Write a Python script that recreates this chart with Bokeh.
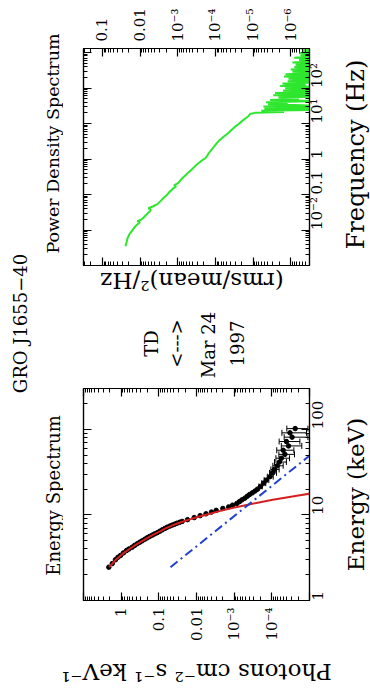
import math

from bokeh.embed import file_html
from bokeh.layouts import column, row
from bokeh.models import (ColumnDataSource, FixedTicker, Label, LogAxis, Range1d,
                          TeeHead, Whisker)
from bokeh.plotting import figure
from bokeh.resources import INLINE

SERIF = "DejaVu Serif"

# ---------------------------------------------------------------- energy spectrum
# photon flux (photons cm^-2 s^-1 keV^-1) against energy (keV)
spec_energy = [2.45, 2.7, 2.99, 3.2, 3.36, 3.6, 3.84, 4.0, 4.2, 4.4, 4.6, 4.8, 4.98,
               5.2, 5.4, 5.6, 5.8, 6.0, 6.2, 6.45, 6.7, 6.95, 7.2, 7.4, 7.6, 7.8,
               8.0, 8.2, 8.4, 8.8, 9.3, 9.8, 10.3, 10.8, 11.3, 11.9, 12.4, 13.0,
               13.6, 14.3, 15.0, 15.7, 16.5, 17.3, 18.1, 19.0, 20.0]
spec_flux = [2.13, 1.72, 1.42, 1.22, 1.04, 0.87, 0.72, 0.62, 0.51, 0.44, 0.375, 0.32, 0.277,
             0.235, 0.204, 0.176, 0.150, 0.130, 0.110, 0.094, 0.081, 0.069, 0.060, 0.051, 0.044, 0.038,
             0.033, 0.028, 0.024, 0.0173, 0.0115, 0.0080, 0.0056, 0.0040, 0.0030, 0.0020, 0.0014, 0.0011,
             0.00085, 0.00072, 0.00062, 0.00052, 0.00045, 0.00039, 0.00033, 0.00028, 0.00024]

# hard X-ray channels with their error bars
hard_energy = [21.5, 23.5, 25.5, 28, 31, 34, 37.5, 41.5, 46, 51, 57, 64, 72, 81, 91, 102]
hard_energy_lo = [20.5, 22.5, 24.5, 26.7, 29.4, 32.5, 35.8, 39.5, 43.7, 48.5, 54, 60.5, 68, 76.5, 86, 96.5]
hard_energy_hi = [22.5, 24.5, 26.7, 29.4, 32.5, 35.8, 39.5, 43.7, 48.5, 54, 60.5, 68, 76.5, 86, 96.5, 108]
hard_flux = [2.0e-4, 1.65e-4, 1.4e-4, 1.12e-4, 9.5e-5, 8.5e-5, 7.2e-5, 6.3e-5,
             5.6e-5, 4.5e-5, 5.0e-5, 3.6e-5, 4.1e-5, 2.9e-5, 3.3e-5, 2.4e-5]
hard_flux_lo = [1.8e-4, 1.45e-4, 1.2e-4, 9.2e-5, 7.5e-5, 6.4e-5, 5.0e-5, 4.1e-5,
                3.4e-5, 2.5e-5, 2.6e-5, 1.6e-5, 1.8e-5, 1.1e-5, 1.2e-5, 1.1e-5]
hard_flux_hi = [2.2e-4, 1.85e-4, 1.6e-4, 1.32e-4, 1.15e-4, 1.06e-4, 9.4e-5, 8.5e-5,
                7.8e-5, 6.5e-5, 7.4e-5, 5.6e-5, 6.4e-5, 4.7e-5, 5.4e-5, 4.0e-5]

# thermal disk component (solid red)
disk_energy = [2.45, 3.0, 3.5, 4.0, 4.5, 5.0, 5.5, 6.0, 6.5, 7.0, 7.5, 8.0, 8.5, 9.0,
               9.5, 10, 11, 12, 13, 14, 15, 16, 17, 18, 19]
disk_flux = [2.08, 1.38, 0.92, 0.60, 0.40, 0.265, 0.184, 0.126, 0.088, 0.064, 0.045, 0.031,
             0.0205, 0.0135, 0.0089, 0.0058, 0.0026, 0.00115, 5.0e-4, 2.2e-4, 9.5e-5,
             4.1e-5, 1.8e-5, 7.8e-6, 3.4e-6]

# power-law component (blue dash-dot)
powerlaw_energy = [2.45, 300.0]
powerlaw_flux = [0.049, 6.0e-8]

# ---------------------------------------------------------------- power density spectrum
pds_freq = [0.0035, 0.0045, 0.0058, 0.0077, 0.0098, 0.0125, 0.0150, 0.0165, 0.0178, 0.0195,
            0.0225, 0.026, 0.030, 0.034, 0.038, 0.041, 0.046, 0.0537, 0.064, 0.0795,
            0.094, 0.110, 0.130, 0.152, 0.168, 0.182, 0.21, 0.25, 0.292, 0.35,
            0.42, 0.50, 0.60, 0.72, 0.87, 1.07, 1.30, 1.60, 2.0, 2.5,
            3.2, 3.9, 4.6, 5.4, 6.5, 7.9, 9.7, 11.5, 13.8, 16.3, 18.5,
            20, 21, 23, 24, 26, 28, 30, 32, 35, 37,
            40, 43, 46, 50, 54, 58, 63, 68, 73, 79,
            85, 92, 99, 107, 115, 124, 134, 145, 156, 168,
            182, 196, 212, 228, 246, 266, 287, 310, 334, 361,
            389, 420, 453, 489, 528, 570, 615, 664, 716, 773,
            834, 900, 971, 1048, 1131, 1220, 1300]
pds_power = [0.0243, 0.0228, 0.0215, 0.0190, 0.0160, 0.0135, 0.0112, 0.0100, 0.0118, 0.0094,
             0.0080, 0.0070, 0.0062, 0.0054, 0.0052, 0.0060, 0.0046, 0.00343, 0.0029, 0.00238,
             0.0020, 0.00175, 0.0015, 0.00129, 0.00110, 0.00125, 0.00098, 0.00085, 0.000745, 0.00062,
             0.00052, 0.00043, 0.00036, 0.00030, 0.00024, 0.000182, 0.000160, 0.000140, 0.000118, 0.000100,
             8.2e-5, 6.6e-5, 5.5e-5, 4.5e-5, 3.8e-5, 3.1e-5, 2.4e-5, 2.0e-5, 1.6e-5, 1.3e-5, 1.2e-5,
             9e-6, 1.5e-6, 6e-6, 3e-7, 5e-6, 1e-7, 5.3e-6, 2e-7, 4e-6, 1.2e-6,
             4.5e-6, 1e-7, 3.5e-6, 6e-7, 2.1e-6, 1e-7, 2.9e-6, 3e-7, 2.6e-6, 1e-7,
             1.6e-6, 2e-7, 1.4e-6, 1e-7, 1.9e-6, 4e-7, 1.65e-6, 1e-7, 1.2e-6, 2e-7,
             1.14e-6, 1e-7, 1.5e-6, 3e-7, 1.37e-6, 1e-7, 9e-7, 2e-7, 1.0e-6, 1e-7,
             8e-7, 3e-7, 7.4e-7, 1e-7, 9e-7, 2e-7, 6e-7, 1e-7, 8e-7, 3e-7,
             5.5e-7, 1e-7, 6e-7, 2e-7, 5e-7, 1e-7, 5.5e-7]

# ---------------------------------------------------------------- tick values and labels
flux_ticks = [10.0, 1.0, 0.1, 0.01, 0.001, 1e-4, 1e-5]
flux_tick_labels = ["", "1", "0.1", "0.01", "10⁻³", "10⁻⁴", ""]
energy_ticks = [1.0, 10.0, 100.0]
energy_tick_labels = ["1", "10", "100"]
power_ticks = [0.1, 0.01, 0.001, 1e-4, 1e-5, 1e-6]
power_tick_labels = ["0.1", "0.01", "10⁻³", "10⁻⁴", "10⁻⁵", "10⁻⁶"]
freq_ticks = [0.001, 0.01, 0.1, 1.0, 10.0, 100.0, 1000.0]
freq_tick_labels = ["", "10⁻²", "0.1", "1", "10¹", "10²", ""]


def minor_log(lo_exp, hi_exp):
    return [m * 10.0 ** e for e in range(lo_exp, hi_exp) for m in range(2, 10)]


def dress_axis(ax, ticks, labels, minor, standoff=7):
    ax.ticker = FixedTicker(ticks=ticks, minor_ticks=minor)
    ax.major_tick_in = 8
    ax.major_tick_out = 0
    ax.minor_tick_in = 4
    ax.minor_tick_out = 0
    ax.axis_line_color = "black"
    ax.axis_line_width = 1.2
    ax.major_tick_line_color = "black"
    ax.major_tick_line_width = 1.2
    ax.minor_tick_line_color = "black"
    ax.minor_tick_line_width = 1
    if labels is None:
        # mirrored frame edge: ticks only
        ax.major_label_overrides = {t: "" for t in ticks}
        ax.major_label_text_font_size = "0px"
        ax.major_label_standoff = 0
        return
    ax.major_label_overrides = dict(zip(ticks, labels))
    ax.major_label_orientation = math.pi / 2
    ax.major_label_text_font = SERIF
    ax.major_label_text_font_size = "15px"
    ax.major_label_text_color = "black"
    ax.major_label_standoff = standoff


def panel(height, border_top, border_bottom, x_range, y_range, x_side):
    p = figure(width=277, height=height, x_axis_type="log", y_axis_type="log",
               x_range=x_range, y_range=y_range, x_axis_location=x_side,
               y_axis_location="right", toolbar_location=None, output_backend="svg",
               min_border_left=20, min_border_right=31,
               min_border_top=border_top, min_border_bottom=border_bottom)
    p.grid.visible = False
    p.outline_line_color = "black"
    p.outline_line_width = 1.2
    p.background_fill_color = "white"
    p.border_fill_color = "white"
    return p


def text_box(width, height):
    # an axis-free canvas whose data units are pixels, used for free-standing text
    t = figure(width=width, height=height, toolbar_location=None, output_backend="svg",
               x_range=Range1d(0, width), y_range=Range1d(0, height),
               x_axis_location=None, y_axis_location=None, min_border=0)
    t.grid.visible = False
    t.outline_line_color = None
    t.background_fill_color = "white"
    t.border_fill_color = "white"
    return t


def add_text(p, x, y, text, size, angle):
    p.add_layout(Label(x=x, y=y, text=text, angle=angle,
                       text_align="center", text_baseline="middle",
                       text_font=SERIF, text_font_size=size, text_color="black"))


UP = math.pi / 2
FLIP = math.pi

# ---------------------------------------------------------------- power density panel
top = panel(266, 48, 1, Range1d(10 ** -0.5, 10 ** -6.5), Range1d(1e-3, 1300), "above")
mirror_below = LogAxis()
mirror_left = LogAxis()
top.add_layout(mirror_below, "below")
top.add_layout(mirror_left, "left")
power_minor = minor_log(-7, 0)
freq_minor = minor_log(-3, 4)
dress_axis(top.above[0], power_ticks, power_tick_labels, power_minor)
dress_axis(mirror_below, power_ticks, None, power_minor)
dress_axis(top.right[0], freq_ticks, freq_tick_labels, freq_minor, standoff=8)
dress_axis(mirror_left, freq_ticks, None, freq_minor)

top.line(pds_power, pds_freq, line_color="#2ee62e", line_width=2)

# ---------------------------------------------------------------- energy spectrum panel
bottom = panel(270, 8, 50, Range1d(10.0, 1e-5), Range1d(1.0, 300.0), "below")
mirror_above = LogAxis()
mirror_left2 = LogAxis()
bottom.add_layout(mirror_above, "above")
bottom.add_layout(mirror_left2, "left")
flux_minor = minor_log(-5, 1)
energy_minor = minor_log(0, 3)
dress_axis(bottom.below[0], flux_ticks, flux_tick_labels, flux_minor)
dress_axis(mirror_above, flux_ticks, None, flux_minor)
dress_axis(bottom.right[0], energy_ticks, energy_tick_labels, energy_minor, standoff=8)
dress_axis(mirror_left2, energy_ticks, None, energy_minor)

bottom.scatter(spec_flux, spec_energy, size=4.5, color="black")

hard = ColumnDataSource(dict(energy=hard_energy, e_lo=hard_energy_lo, e_hi=hard_energy_hi,
                             flux=hard_flux, f_lo=hard_flux_lo, f_hi=hard_flux_hi))
bottom.add_layout(Whisker(source=hard, base="energy", lower="f_lo", upper="f_hi",
                          dimension="width", line_color="black", line_width=1,
                          lower_head=TeeHead(size=6, line_color="black"),
                          upper_head=TeeHead(size=6, line_color="black")))
bottom.add_layout(Whisker(source=hard, base="flux", lower="e_lo", upper="e_hi",
                          dimension="height", line_color="black", line_width=1,
                          lower_head=None, upper_head=None))
bottom.scatter("flux", "energy", source=hard, size=4.5, color="black")

bottom.line(disk_flux, disk_energy, line_color="#d42020", line_width=2)
bottom.line(powerlaw_flux, powerlaw_energy, line_color="#2040d0", line_width=2,
            line_dash="9 4 2 4")

# ---------------------------------------------------------------- free-standing text
left = text_box(63, 650)
add_text(left, 19.5, 327, "GRO J1655−40", "18px", UP)
add_text(left, 52.5, 507, "Power Density Spectrum", "17.5px", UP)
add_text(left, 52.5, 155, "Energy Spectrum", "18px", UP)

middle = text_box(277, 114)
add_text(middle, 133, 100, "(rms/mean)²/Hz", "23px", FLIP)
add_text(middle, 83.5, 37, "TD", "18px", UP)
add_text(middle, 113.5, 37, "<--->", "18px", UP)
add_text(middle, 153, 35.5, "Mar 24", "18px", UP)
add_text(middle, 188, 37, "1997", "18px", UP)

right = text_box(30, 650)
add_text(right, 15, 496, "Frequency (Hz)", "24px", UP)
add_text(right, 15, 156, "Energy (keV)", "23px", UP)

foot = text_box(370, 41)
add_text(foot, 196, 20, "Photons cm⁻² s⁻¹ keV⁻¹", "23px", FLIP)

layout = column(row(left, column(top, middle, bottom), right), foot)
open("out.html", "w").write(file_html(layout, INLINE))
